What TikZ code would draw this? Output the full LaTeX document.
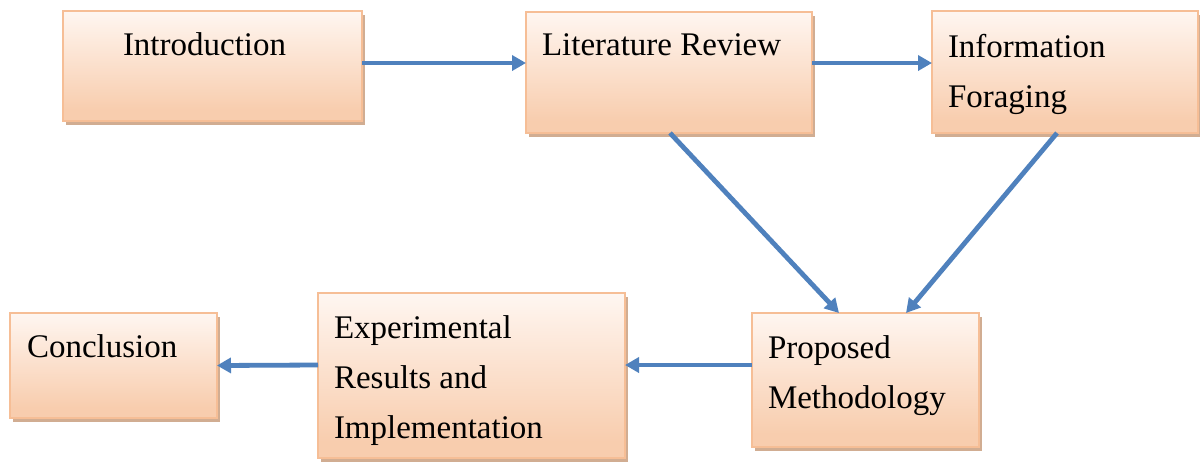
\documentclass[tikz,border=0pt]{standalone}
\usepackage{fontspec}
\setmainfont{Liberation Serif}
\usetikzlibrary{arrows.meta,shadows}

\definecolor{peach}{RGB}{248,205,174}
\definecolor{peachlight}{RGB}{253,234,221}
\definecolor{peachtop}{RGB}{255,251,249}
\definecolor{boxline}{RGB}{246,190,150}
\definecolor{boxshadow}{RGB}{205,165,135}
\definecolor{flowblue}{RGB}{79,129,189}

\pgfdeclareverticalshading{peachfade}{100bp}{%
  color(0bp)=(peach); color(30bp)=(peach); color(62bp)=(peachlight);
  color(80bp)=(peachtop); color(100bp)=(peachtop)}

% multi-line title whose baseline is that of its first line
\newcommand{\stagelines}[1]{\begin{tabular}[t]{@{}l@{}}#1\end{tabular}}

\tikzset{
  stagebox/.style={rectangle, inner sep=0pt, outer sep=0pt,
    draw=boxline, line width=0.6pt, shading=peachfade,
    drop shadow={shadow xshift=1.6pt, shadow yshift=-2pt,
      fill=boxshadow, opacity=0.9}},
  stagetext/.style={anchor=base west, inner sep=0pt, outer sep=0pt,
    font={\fontsize{16.5}{25}\selectfont}},
  flow/.style={draw=flowblue, line width=2.4pt,
    -{Triangle[length=7pt,width=7.5pt]}}
}

\begin{document}
\begin{tikzpicture}[x=0.5pt, y=-0.5pt]
  \useasboundingbox[fill=white] (0,0) rectangle (1200,462);

  % stage boxes
  \node[stagebox, minimum width=149.5pt, minimum height=55pt]   (intro) at (212.5,66) {};
  \node[stagebox, minimum width=143pt,   minimum height=60.5pt] (lit)   at (669,72.5) {};
  \node[stagebox, minimum width=133pt,   minimum height=61pt]   (info)  at (1065,72) {};
  \node[stagebox, minimum width=113.5pt, minimum height=67pt]   (prop)  at (865.5,380) {};
  \node[stagebox, minimum width=153.5pt, minimum height=82.5pt] (exp)   at (471.5,375.5) {};
  \node[stagebox, minimum width=103.5pt, minimum height=52.5pt] (conc)  at (113.5,365.5) {};

  % stage titles
  \node[stagetext] (intro-t) at ([xshift=30pt, yshift=-22pt]intro.north west) {Introduction};
  \node[stagetext] (lit-t)   at ([xshift=8pt,  yshift=-21.5pt]lit.north west) {Literature Review};
  \node[stagetext] (info-t)  at ([xshift=8pt,  yshift=-23pt]info.north west) {\stagelines{Information\\Foraging}};
  \node[stagetext] (prop-t)  at ([xshift=8pt,  yshift=-22.5pt]prop.north west) {\stagelines{Proposed\\Methodology}};
  \node[stagetext] (exp-t)   at ([xshift=8pt,  yshift=-22.5pt]exp.north west) {\stagelines{Experimental\\Results and\\Implementation}};
  \node[stagetext] (conc-t)  at ([xshift=8.5pt,yshift=-22pt]conc.north west) {Conclusion};

  % connectors
  \draw[flow] ([yshift=1.5pt]intro.east) -- ([yshift=4.75pt]lit.west);
  \draw[flow] ([yshift=4.75pt]lit.east) -- ([yshift=4.5pt]info.west);
  \draw[flow] ([xshift=0.5pt]lit.south) -- ([xshift=-13.25pt]prop.north);
  \draw[flow] ([xshift=-4pt]info.south) -- ([xshift=20.25pt]prop.north);
  \draw[flow] ([yshift=7.5pt]prop.west) -- ([yshift=5.25pt]exp.east);
  \draw[flow] ([yshift=5.25pt]exp.west) -- (conc.east);
\end{tikzpicture}
\end{document}
